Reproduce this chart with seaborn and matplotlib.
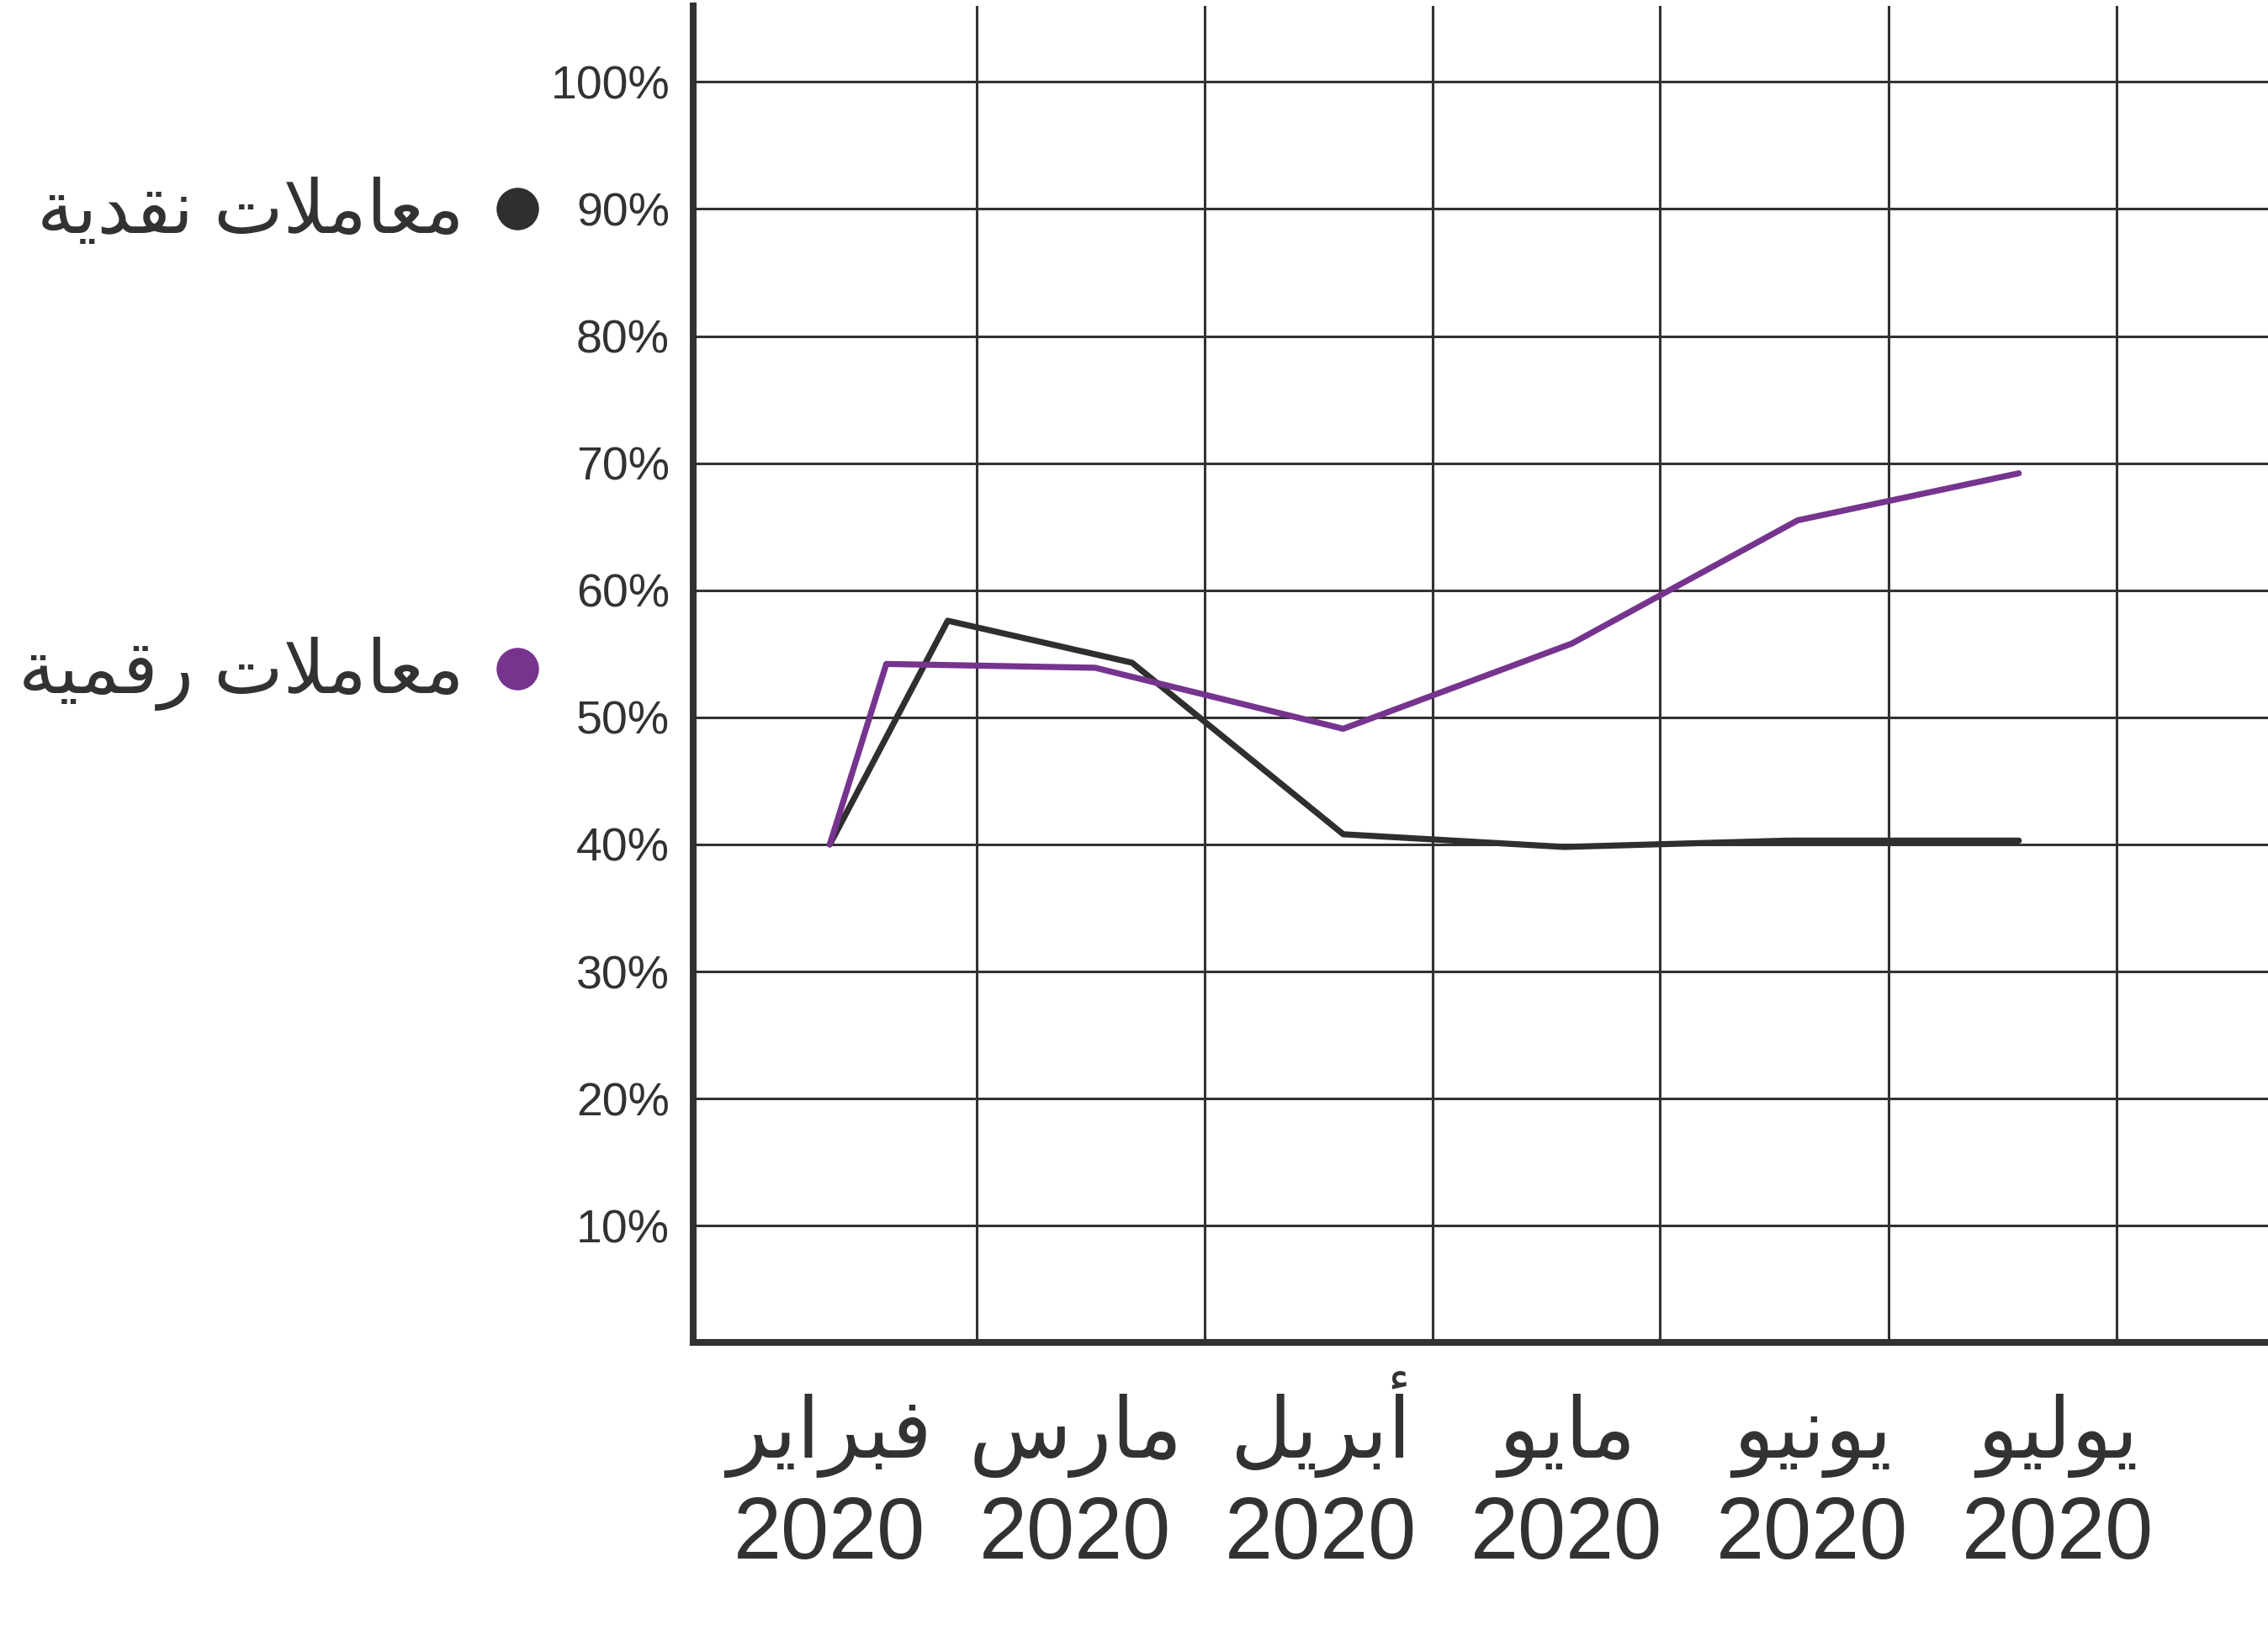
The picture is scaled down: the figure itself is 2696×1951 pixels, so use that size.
import numpy as np
import pandas as pd
import matplotlib
matplotlib.use("Agg")
import matplotlib.pyplot as plt
import seaborn as sns

# data (x in month units, 0 = Feb 2020)
months = ["فبراير", "مارس", "أبريل", "مايو", "يونيو", "يوليو"]
year = "2020"
month_pos = [0, 1, 2, 3, 4, 5]

cash_x = [0, 0.48, 1.23, 2.09, 2.99, 3.90, 4.84]
cash = [40, 57.6, 54.3, 40.8, 39.8, 40.3, 40.3]
digital_x = [0, 0.23, 1.08, 2.09, 3.02, 3.94, 4.84]
digital = [40, 54.2, 53.9, 49.1, 55.8, 65.5, 69.2]

cash_label = "معاملات نقدية"
digital_label = "معاملات رقمية"
ytick_vals = [10, 20, 30, 40, 50, 60, 70, 80, 90, 100]

# matplotlib has no arabic shaping -> map to presentation forms and reverse
# (isolated, final, initial, medial)
FORMS = {
    'ا': ('\uFE8D', '\uFE8E', None, None),
    'أ': ('\uFE83', '\uFE84', None, None),
    'ب': ('\uFE8F', '\uFE90', '\uFE91', '\uFE92'),
    'ة': ('\uFE93', '\uFE94', None, None),
    'ت': ('\uFE95', '\uFE96', '\uFE97', '\uFE98'),
    'د': ('\uFEA9', '\uFEAA', None, None),
    'ر': ('\uFEAD', '\uFEAE', None, None),
    'س': ('\uFEB1', '\uFEB2', '\uFEB3', '\uFEB4'),
    'ع': ('\uFEC9', '\uFECA', '\uFECB', '\uFECC'),
    'ف': ('\uFED1', '\uFED2', '\uFED3', '\uFED4'),
    'ق': ('\uFED5', '\uFED6', '\uFED7', '\uFED8'),
    'ل': ('\uFEDD', '\uFEDE', '\uFEDF', '\uFEE0'),
    'م': ('\uFEE1', '\uFEE2', '\uFEE3', '\uFEE4'),
    'ن': ('\uFEE5', '\uFEE6', '\uFEE7', '\uFEE8'),
    'و': ('\uFEED', '\uFEEE', None, None),
    'ي': ('\uFEF1', '\uFEF2', '\uFEF3', '\uFEF4'),
    'لا': ('\uFEFB', '\uFEFC', None, None),
    'لأ': ('\uFEF7', '\uFEF8', None, None),
}


def shape(text):
    toks = []
    i = 0
    while i < len(text):
        if text[i] == 'ل' and i + 1 < len(text) and text[i + 1] in 'اأ':
            toks.append(text[i:i + 2])
            i += 2
        else:
            toks.append(text[i])
            i += 1
    out = []
    for k, t in enumerate(toks):
        if t not in FORMS:
            out.append(t)
            continue
        prev_j = k > 0 and toks[k - 1] in FORMS and FORMS[toks[k - 1]][2] is not None
        next_j = (k < len(toks) - 1 and toks[k + 1] in FORMS
                  and FORMS[t][2] is not None)
        iso, fin, ini, med = FORMS[t]
        if prev_j and next_j:
            out.append(med)
        elif prev_j:
            out.append(fin)
        elif next_j:
            out.append(ini)
        else:
            out.append(iso)
    return ''.join(out)[::-1]


df = pd.concat([
    pd.DataFrame({'x': cash_x, 'share': cash, 'kind': 'cash'}),
    pd.DataFrame({'x': digital_x, 'share': digital, 'kind': 'digital'}),
])

ink = '#333132'
palette = {'cash': '#302e2f', 'digital': '#76348f'}

sns.set_style('white')
plt.rcParams['font.family'] = ['Liberation Sans', 'DejaVu Sans']
plt.rcParams['text.color'] = ink

fig = plt.figure(figsize=(13.48, 9.755), dpi=200)
ax = fig.add_axes([0.3056, 0.1822, 0.6944, 0.8144])

sns.lineplot(data=df, x='x', y='share', hue='kind', palette=palette,
             estimator=None, sort=False, linewidth=2.6, legend=False, ax=ax)

ax.set_xlim(-0.5565, 5.8545)
ax.set_ylim(0.85, 106.0)

ax.set_yticks(ytick_vals)
ax.set_yticklabels([f"{v}%" for v in ytick_vals], fontsize=20, color=ink)
ax.set_xticks(month_pos)
ax.set_xticklabels([])
ax.set_xticks([0.598, 1.526, 2.454, 3.380, 4.310, 5.238], minor=True)
ax.tick_params(axis='both', which='both', length=0)
ax.tick_params(axis='y', pad=10)

# month / year rows on fixed baselines
for xp, m in zip(month_pos, months):
    ax.text(xp, -0.0865, shape(m), transform=ax.get_xaxis_transform(),
            ha='center', va='baseline', fontsize=36, color=ink)
    ax.text(xp, -0.162, year, transform=ax.get_xaxis_transform(),
            ha='center', va='baseline', fontsize=37, color=ink)

ax.grid(False)
ax.yaxis.grid(True, which='major', color=ink, linewidth=1.1)
ax.xaxis.grid(True, which='minor', color=ink, linewidth=1.1)
ax.set_axisbelow(True)
ax.set_xlabel('')
ax.set_ylabel('')

for side in ['top', 'right']:
    ax.spines[side].set_visible(False)
for side in ['left', 'bottom']:
    ax.spines[side].set_color(ink)
    ax.spines[side].set_linewidth(2.9)

# legend drawn beside the y axis, marker right of text
for lbl, yv, key in [(cash_label, 90, 'cash'), (digital_label, 53.8, 'digital')]:
    ax.scatter([-1.272], [yv], s=330, color=palette[key], clip_on=False,
               linewidths=0, zorder=5)
    ax.text(-1.49, yv - 0.4, shape(lbl), ha='right', va='center', fontsize=31.5,
            color=ink, clip_on=False)

fig.savefig('out.png', dpi=200)
